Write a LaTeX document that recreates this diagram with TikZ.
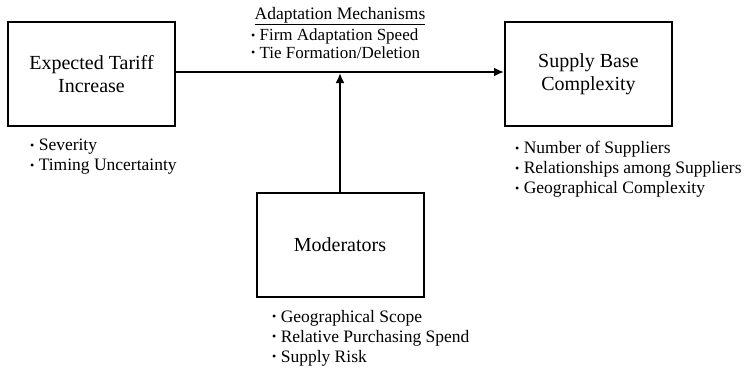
\documentclass[tikz,border=0pt]{standalone}
\usepackage{fontspec}
\setmainfont{Liberation Serif}
\usetikzlibrary{arrows.meta}
\newcommand{\itm}{{\fontsize{12}{12}\selectfont\raisebox{1.5pt}{•}}\ }

\begin{document}
\begin{tikzpicture}[x=1pt,y=-1pt,
    box/.style={draw,line width=2pt,minimum width=167pt,minimum height=104pt,align=center,font=\fontsize{20}{23}\selectfont},
    items/.style={align=left,anchor=north west,inner sep=0pt,font=\fontsize{17.5}{20}\selectfont},
    link/.style={line width=2.4pt,-{Latex[length=10pt,width=9pt]}}]
    \useasboundingbox (0,0) rectangle (755,370);
    \node[box] (tariff) at (91.5,74) {Expected Tariff\\Increase};
    \node[box] (supply) at (588.5,74) {Supply Base\\Complexity};
    \node[box] (moder) at (340,245) {Moderators};
    \draw[link] ([yshift=2pt]tariff.east) -- ([yshift=2pt]supply.west);
    \coordinate (join) at (340,73);
    \draw[link] (moder.north) -- (join);
    \node[items,anchor=base] (mechtitle) at (340,19) {\underline{Adaptation Mechanisms}};
    \node[items,font=\fontsize{17}{17.5}\selectfont] (mech) at (251,29) {\itm Firm Adaptation Speed\\\itm Tie Formation/Deletion};
    \node[items] (tariffitems) at (30,139) {\itm Severity\\\itm Timing Uncertainty};
    \node[items] (supplyitems) at (515,141) {\itm Number of Suppliers\\\itm Relationships among Suppliers\\\itm Geographical Complexity};
    \node[items] (moderitems) at (272,310) {\itm Geographical Scope\\\itm Relative Purchasing Spend\\\itm Supply Risk};
\end{tikzpicture}
\end{document}
